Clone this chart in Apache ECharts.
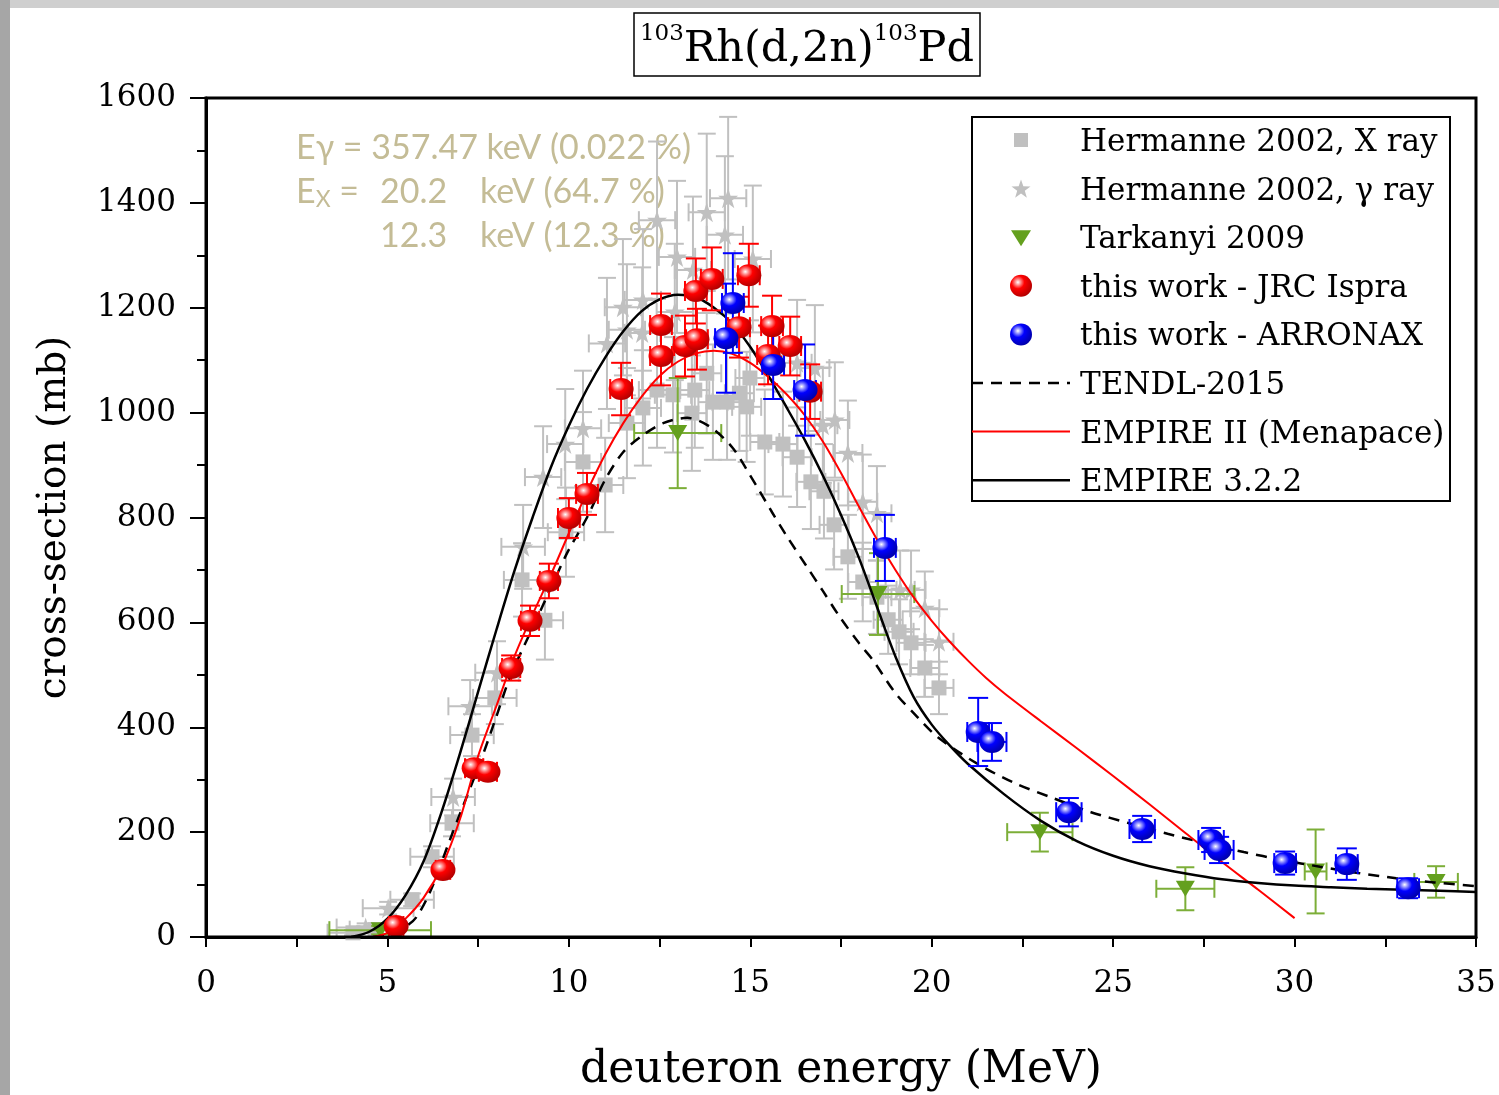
<!DOCTYPE html>
<html>
<head>
<meta charset="utf-8">
<script src="https://cdn.jsdelivr.net/npm/echarts@6/dist/echarts.min.js"></script>
<style>
  html, body { margin: 0; padding: 0; background: #ffffff; }
  #chart { width: 1499px; height: 1095px; }
</style>
</head>
<body>
<div id="chart"></div>
<script>
// Measured points: [energy (MeV), cross-section (mb), energy uncertainty, cross-section uncertainty]
const hermanneXray = [
  [4.05, 8, 0.7, 5], [4.66, 14, 0.7, 6], [5.68, 71, 0.6, 12], [6.23, 153, 0.6, 20],
  [6.78, 217, 0.6, 25], [7.33, 385, 0.6, 40], [7.96, 456, 0.6, 50], [8.71, 681, 0.5, 70],
  [9.34, 604, 0.5, 75], [9.92, 772, 0.5, 85], [10.39, 906, 0.5, 95], [11.0, 862, 0.5, 90],
  [11.6, 980, 0.5, 105], [12.04, 1009, 0.5, 110], [12.43, 1043, 0.5, 110], [12.87, 1034, 0.5, 110],
  [13.39, 999, 0.4, 110], [13.47, 1043, 0.4, 110], [13.8, 1075, 0.4, 115], [13.97, 1020, 0.4, 110],
  [14.36, 1020, 0.4, 110], [14.7, 1037, 0.4, 110], [14.9, 1011, 0.4, 105], [14.99, 1066, 0.4, 110],
  [15.4, 944, 0.4, 100], [15.9, 940, 0.4, 100], [16.29, 915, 0.4, 95], [16.67, 868, 0.4, 90],
  [17.03, 850, 0.4, 90], [17.31, 786, 0.4, 85], [17.69, 725, 0.4, 80], [18.1, 677, 0.4, 75],
  [18.49, 648, 0.4, 70], [18.8, 605, 0.4, 65], [19.1, 582, 0.4, 62], [19.43, 561, 0.4, 60],
  [19.81, 513, 0.4, 55], [20.2, 475, 0.4, 50]
];
const hermanneGamma = [
  [4.4, 18, 0.8, 8], [5.02, 55, 0.7, 12], [6.81, 267, 0.6, 35], [7.28, 440, 0.6, 50],
  [8.02, 504, 0.6, 60], [8.74, 744, 0.6, 80], [9.29, 877, 0.5, 97], [9.9, 940, 0.5, 105],
  [10.39, 970, 0.5, 110], [11.05, 1132, 0.5, 125], [11.49, 1201, 0.5, 130], [11.6, 1158, 0.5, 125],
  [12.02, 1152, 0.5, 125], [12.04, 1215, 0.5, 135], [12.43, 1367, 0.5, 150], [12.92, 1192, 0.5, 130],
  [12.98, 1297, 0.5, 145], [13.42, 1272, 0.5, 140], [13.8, 1382, 0.5, 150], [14.3, 1339, 0.5, 150],
  [14.39, 1409, 0.5, 155], [15.07, 1293, 0.5, 140], [16.29, 1095, 0.4, 120], [16.78, 1085, 0.4, 120],
  [17.0, 976, 0.4, 110], [17.33, 986, 0.4, 110], [17.69, 923, 0.4, 100], [18.1, 830, 0.4, 90],
  [18.49, 808, 0.4, 90], [19.13, 662, 0.4, 75], [19.43, 662, 0.4, 75], [19.81, 627, 0.4, 70],
  [20.2, 563, 0.4, 62]
];
const tarkanyi2009 = [
  [4.8, 13, 1.4, 8], [13.0, 961, 1.2, 105], [18.52, 654, 1.0, 78], [22.98, 200, 0.9, 37],
  [26.99, 92, 0.8, 41], [30.58, 125, 0.3, 80], [33.9, 105, 0.6, 30]
];
const jrcIspra = [
  [5.24, 21, 0.2, 10], [6.53, 128, 0.2, 12], [7.39, 322, 0.25, 15], [7.77, 315, 0.25, 15],
  [8.41, 513, 0.25, 24], [8.93, 603, 0.25, 29], [9.45, 679, 0.25, 33], [10.0, 799, 0.3, 38],
  [10.5, 845, 0.3, 40], [11.44, 1045, 0.3, 50], [12.54, 1167, 0.3, 60], [12.54, 1108, 0.3, 56],
  [13.2, 1127, 0.3, 58], [13.53, 1140, 0.3, 58], [13.5, 1232, 0.3, 62], [13.94, 1255, 0.3, 60],
  [14.96, 1262, 0.3, 60], [14.69, 1163, 0.3, 58], [15.6, 1165, 0.3, 58], [15.49, 1110, 0.3, 56],
  [16.1, 1127, 0.3, 56], [16.65, 1040, 0.3, 52]
];
const arronax = [
  [14.33, 1142, 0.3, 104], [14.52, 1209, 0.3, 95], [15.63, 1091, 0.3, 65], [16.51, 1043, 0.3, 87],
  [18.71, 742, 0.3, 63], [21.28, 391, 0.3, 65], [21.66, 372, 0.4, 36], [23.78, 238, 0.35, 27],
  [25.8, 206, 0.35, 25], [27.7, 185, 0.35, 23], [27.92, 166, 0.4, 25], [29.74, 141, 0.3, 22],
  [31.44, 139, 0.3, 30], [33.13, 93, 0.3, 19]
];

// Model calculations: [energy (MeV), cross-section (mb)]
const tendl2015 = [
  [4.6, 0], [5.0, 5], [5.5, 20], [5.8, 38], [6.2, 90], [6.72, 185], [7.0, 235], [7.55, 332],
  [8.0, 420], [8.38, 496], [9.01, 591], [9.5, 665], [9.95, 732], [10.5, 800], [11.0, 872],
  [11.5, 925], [12.0, 955], [12.6, 980], [13.26, 990], [13.89, 973], [14.5, 934], [15.0, 880],
  [15.6, 810], [16.0, 765], [16.56, 706], [17.0, 660], [17.47, 610], [18.0, 560], [18.38, 528],
  [19.0, 465], [19.6, 420], [20.17, 381], [21.22, 332], [22.27, 294], [23.34, 265], [24.39, 238],
  [25.44, 217], [26.5, 197], [27.53, 179], [28.6, 162], [29.65, 147], [30.7, 134], [31.75, 122],
  [32.8, 112], [33.85, 104], [35.0, 97]
];
const empire2 = [
  [4.6, 0], [5.0, 8], [5.5, 35], [6.0, 75], [6.5, 135], [7.0, 225], [7.5, 345], [8.0, 440],
  [8.5, 535], [9.0, 615], [9.5, 690], [10.0, 770], [10.5, 849], [11.0, 920], [11.5, 980],
  [12.0, 1030], [12.5, 1070], [13.0, 1097], [13.5, 1113], [14.0, 1118], [14.5, 1112], [15.0, 1095],
  [15.5, 1068], [16.0, 1035], [16.5, 995], [17.0, 945], [17.5, 885], [18.0, 820], [18.5, 757],
  [19.0, 700], [19.5, 648], [20.0, 603], [20.5, 563], [21.0, 527], [21.5, 494], [22.0, 465],
  [23.0, 412], [24.0, 360], [25.0, 307], [26.0, 253], [27.0, 198], [28.0, 143], [29.0, 90], [30.0, 36]
];
const empire322 = [
  [4.0, 0], [4.5, 10], [5.0, 35], [5.5, 80], [6.0, 145], [6.5, 240], [7.0, 350], [7.5, 468],
  [8.0, 585], [8.5, 698], [9.0, 800], [9.5, 895], [10.0, 975], [10.5, 1045], [11.0, 1105],
  [11.5, 1155], [12.0, 1193], [12.5, 1216], [13.0, 1225], [13.5, 1220], [14.0, 1200], [14.5, 1170],
  [15.0, 1125], [15.5, 1070], [16.0, 1010], [16.5, 948], [17.0, 880], [17.5, 805], [18.0, 722],
  [18.5, 628], [19.0, 535], [19.5, 458], [20.0, 405], [20.5, 365], [21.0, 330], [22.0, 272],
  [23.0, 222], [24.0, 183], [25.0, 155], [26.0, 135], [27.0, 121], [28.0, 110], [29.0, 103],
  [30.0, 98], [31.0, 95], [32.0, 92], [33.0, 90], [34.0, 88], [35.0, 86]
];

const legendNames = [
  'Hermanne 2002, X ray', 'Hermanne 2002, \u03b3 ray', 'Tarkanyi 2009',
  'this work - JRC Ispra', 'this work - ARRONAX', 'TENDL-2015',
  'EMPIRE II (Menapace)', 'EMPIRE 3.2.2'
];

const SERIF = '"DejaVu Serif", "Liberation Serif", serif';
const STAR = 'path://M50,0 L61.8,35.4 L99,35.4 L69,57.3 L80.4,92.7 L50,70.8 L19.6,92.7 L31,57.3 L1,35.4 L38.2,35.4 Z';
const GRAY = '#c0c0c0';
const GREEN = '#64a01e';
const GREEN_BAR = '#7cae38';

function sphere(base, dark) {
  return new echarts.graphic.RadialGradient(0.36, 0.34, 0.7, [
    { offset: 0, color: '#ffffff' },
    { offset: 0.16, color: base === '#ff0000' ? '#ff9a9a' : '#9a9aff' },
    { offset: 0.42, color: base },
    { offset: 1, color: dark }
  ]);
}

// Five-pointed star outline centred on (cx, cy)
function starPoints(cx, cy, R) {
  const pts = [];
  for (let k = 0; k < 10; k++) {
    const rad = k % 2 === 0 ? R : R * 0.4;
    const a = -Math.PI / 2 + k * Math.PI / 5;
    pts.push([cx + rad * Math.cos(a), cy + rad * Math.sin(a)]);
  }
  return pts;
}

function errorBars(points, color, width, cap, z) {
  return {
    type: 'custom',
    z: z,
    silent: true,
    clip: true,
    encode: { x: 0, y: 1 },
    data: points,
    renderItem: function (params, api) {
      const x = api.value(0), y = api.value(1), dx = api.value(2), dy = api.value(3);
      const t = api.coord([x, y + dy]);
      const b = api.coord([x, y - dy]);
      const l = api.coord([x - dx, y]);
      const r = api.coord([x + dx, y]);
      const st = { stroke: color, lineWidth: width, fill: null };
      const seg = (x1, y1, x2, y2) => ({ type: 'line', shape: { x1, y1, x2, y2 }, style: st });
      return {
        type: 'group',
        children: [
          seg(t[0], t[1], b[0], b[1]),
          seg(t[0] - cap, t[1], t[0] + cap, t[1]),
          seg(b[0] - cap, b[1], b[0] + cap, b[1]),
          seg(l[0], l[1], r[0], r[1]),
          seg(l[0], l[1] - cap, l[0], l[1] + cap),
          seg(r[0], r[1] - cap, r[0], r[1] + cap)
        ]
      };
    }
  };
}

const xy = pts => pts.map(p => [p[0], p[1]]);

const chart = echarts.init(document.getElementById('chart'), null, { renderer: 'canvas' });

// Legend drawn as a framed block at the upper right of the plot
const LX = 972, LY = 117, LW = 478, LH = 384;
const rowY = i => LY + 23 + i * 48.6;
const symX = LX + 49;
const legendGraphics = [
  { type: 'rect', shape: { x: LX, y: LY, width: LW, height: LH }, style: { fill: '#fff', stroke: '#000', lineWidth: 2 }, z: 50 },
  { type: 'rect', shape: { x: symX - 7, y: rowY(0) - 7, width: 14, height: 14 }, style: { fill: GRAY }, z: 51 },
  { type: 'polygon', shape: { points: starPoints(symX, rowY(1) + 1, 10) }, style: { fill: GRAY }, z: 51 },
  { type: 'polygon', shape: { points: [[symX - 10, rowY(2) - 7], [symX + 10, rowY(2) - 7], [symX, rowY(2) + 9]] }, style: { fill: GREEN }, z: 51 },
  { type: 'circle', shape: { cx: symX, cy: rowY(3), r: 11 }, style: { fill: sphere('#ff0000', '#b00000') }, z: 51 },
  { type: 'circle', shape: { cx: symX, cy: rowY(4), r: 11 }, style: { fill: sphere('#0000ff', '#0000a8') }, z: 51 },
  { type: 'line', shape: { x1: LX, y1: rowY(5), x2: LX + 98, y2: rowY(5) }, style: { stroke: '#000', lineWidth: 2.5, lineDash: [11, 8] }, z: 51 },
  { type: 'line', shape: { x1: LX, y1: rowY(6), x2: LX + 98, y2: rowY(6) }, style: { stroke: '#ff0000', lineWidth: 2 }, z: 51 },
  { type: 'line', shape: { x1: LX, y1: rowY(7), x2: LX + 98, y2: rowY(7) }, style: { stroke: '#000', lineWidth: 2.5 }, z: 51 }
];
legendNames.forEach((name, i) => {
  legendGraphics.push({
    type: 'text', z: 52, x: LX + 108, y: rowY(i) + 3,
    style: { text: name, font: '31px ' + SERIF, fill: '#000', verticalAlign: 'middle' }
  });
});

// Gamma / X-ray line information
const NOTE = '#c4bc96';
const noteFont = '34px Lato, "Open Sans", sans-serif';
const noteGraphics = [
  { type: 'text', x: 296, y: 148, style: { text: 'E\u03b3 = 357.47 keV (0.022 %)', font: noteFont, fill: NOTE, verticalAlign: 'middle' } },
  { type: 'text', x: 296, y: 192, style: {
      text: '{m|E}{s|X}{m| =}', verticalAlign: 'middle',
      rich: { m: { font: noteFont, fill: NOTE }, s: { font: '23px Lato, "Open Sans", sans-serif', fill: NOTE, padding: [16, 0, 0, 0] } }
  } },
  { type: 'text', x: 380, y: 192, style: { text: '20.2', font: noteFont, fill: NOTE, verticalAlign: 'middle' } },
  { type: 'text', x: 480, y: 192, style: { text: 'keV (64.7 %)', font: noteFont, fill: NOTE, verticalAlign: 'middle' } },
  { type: 'text', x: 380, y: 236, style: { text: '12.3', font: noteFont, fill: NOTE, verticalAlign: 'middle' } },
  { type: 'text', x: 480, y: 236, style: { text: 'keV (12.3 %)', font: noteFont, fill: NOTE, verticalAlign: 'middle' } }
];

// Reaction title in a frame
const titleGraphics = [
  { type: 'rect', shape: { x: 634, y: 13, width: 346, height: 63 }, style: { fill: '#fff', stroke: '#000', lineWidth: 1.5 } },
  { type: 'text', x: 807, y: 47, style: {
      text: '{s|103}{m|Rh(d,2n)}{s|103}{m|Pd}', align: 'center', verticalAlign: 'middle',
      rich: {
        s: { font: '23px ' + SERIF, fill: '#000', verticalAlign: 'top', lineHeight: 22 },
        m: { font: '43px ' + SERIF, fill: '#000', verticalAlign: 'bottom', lineHeight: 48 }
      }
  } }
];

// Frame of the page
const pageGraphics = [
  { type: 'rect', shape: { x: 0, y: 0, width: 1499, height: 8 }, style: { fill: '#cfcfcf' }, z: 0 },
  { type: 'rect', shape: { x: 0, y: 0, width: 10, height: 1095 }, style: { fill: '#a6a6a6' }, z: 0 }
];

const plain = v => String(v);

const option = {
  animation: false,
  backgroundColor: '#ffffff',
  grid: {
    left: 206, top: 98, width: 1270, height: 839, outerBoundsMode: 'none', containLabel: false,
    show: true, borderColor: '#000', borderWidth: 3, backgroundColor: 'rgba(0,0,0,0)', z: 10
  },
  xAxis: {
    type: 'value', min: 0, max: 35, interval: 5,
    name: 'deuteron energy (MeV)', nameLocation: 'middle', nameGap: 112,
    nameTextStyle: { fontFamily: SERIF, fontSize: 44, color: '#000' },
    axisLine: { lineStyle: { color: '#000', width: 3 } },
    axisTick: { show: true, length: 10, lineStyle: { color: '#000', width: 2 } },
    minorTick: { show: true, splitNumber: 2, length: 10, lineStyle: { color: '#000', width: 2 } },
    splitLine: { show: false },
    axisLabel: { fontFamily: SERIF, fontSize: 31, color: '#000', margin: 31, formatter: plain }
  },
  yAxis: {
    type: 'value', min: 0, max: 1600, interval: 200,
    name: 'cross-section (mb)', nameLocation: 'middle', nameGap: 132, nameRotate: 90,
    nameTextStyle: { fontFamily: SERIF, fontSize: 39, color: '#000' },
    axisLine: { lineStyle: { color: '#000', width: 3 } },
    axisTick: { show: true, length: 16, lineStyle: { color: '#000', width: 2 } },
    minorTick: { show: true, splitNumber: 2, length: 9, lineStyle: { color: '#000', width: 2 } },
    splitLine: { show: false },
    axisLabel: { fontFamily: SERIF, fontSize: 31, color: '#000', margin: 30, formatter: plain }
  },
  graphic: pageGraphics.concat(titleGraphics, noteGraphics, legendGraphics),
  series: [
    errorBars(hermanneXray, GRAY, 2, 9, 2),
    errorBars(hermanneGamma, GRAY, 2, 9, 2),
    {
      name: legendNames[0], type: 'scatter', z: 3, data: xy(hermanneXray),
      symbol: 'rect', symbolSize: 15, itemStyle: { color: GRAY, opacity: 1 }
    },
    {
      name: legendNames[1], type: 'scatter', z: 3, data: xy(hermanneGamma),
      symbol: STAR, symbolSize: 20, itemStyle: { color: GRAY, opacity: 1 }
    },
    errorBars(tarkanyi2009, GREEN_BAR, 2, 9, 4),
    {
      name: legendNames[2], type: 'scatter', z: 5, data: xy(tarkanyi2009),
      symbol: 'triangle', symbolRotate: 180, symbolSize: [19, 16], itemStyle: { color: GREEN, opacity: 1 }
    },
    {
      name: legendNames[5], type: 'line', z: 6, data: tendl2015, showSymbol: false, symbol: 'none', smooth: 0.3,
      lineStyle: { color: '#000', width: 2.5, type: [11, 8] }
    },
    {
      name: legendNames[6], type: 'line', z: 6, data: empire2, showSymbol: false, symbol: 'none', smooth: 0.3,
      lineStyle: { color: '#ff0000', width: 2 }
    },
    {
      name: legendNames[7], type: 'line', z: 6, data: empire322, showSymbol: false, symbol: 'none', smooth: 0.3,
      lineStyle: { color: '#000', width: 2.5 }
    },
    errorBars(jrcIspra, '#ff0000', 2, 10, 7),
    {
      name: legendNames[3], type: 'scatter', z: 8, data: xy(jrcIspra),
      symbol: 'circle', symbolSize: [25, 22], itemStyle: { color: sphere('#ff0000', '#b00000'), opacity: 1 }
    },
    errorBars(arronax, '#0000ff', 2, 10, 8),
    {
      name: legendNames[4], type: 'scatter', z: 9, data: xy(arronax),
      symbol: 'circle', symbolSize: [25, 22], itemStyle: { color: sphere('#0000ff', '#0000a8'), opacity: 1 }
    }
  ]
};

chart.setOption(option);
</script>
</body>
</html>
